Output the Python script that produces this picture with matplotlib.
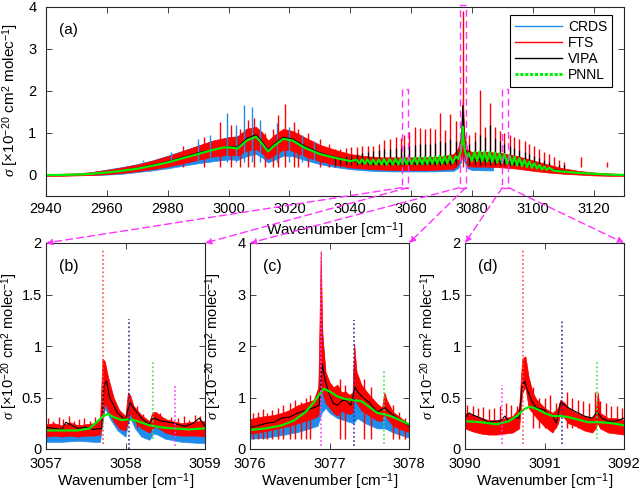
import numpy as np
import matplotlib
matplotlib.use('Agg')
import matplotlib.pyplot as plt
from matplotlib.patches import Rectangle, ConnectionPatch
from matplotlib.lines import Line2D

plt.rcParams['font.family'] = ['Liberation Sans', 'DejaVu Sans']
plt.rcParams['mathtext.fontset'] = 'custom'
plt.rcParams['mathtext.rm'] = 'Liberation Sans'
plt.rcParams['mathtext.it'] = 'Liberation Serif:italic'
plt.rcParams['font.size'] = 10.5

c_crds = '#1f8ceb'
c_fts = '#ff0000'
c_vipa = '#000000'
c_pnnl = '#00ee00'
mag = '#ff33ff'
frame = '#262626'

# ---------------- (a) full band ----------------
wn_a = [2940, 2945, 2950, 2955, 2960, 2965, 2970, 2975, 2980, 2985, 2990, 2995, 3000, 3003, 3006, 3009,
        3011, 3013, 3015, 3018, 3021, 3025, 3030, 3035, 3040, 3045, 3050, 3055, 3060, 3065, 3070, 3074,
        3075.5, 3076.5, 3077, 3077.5, 3078.5, 3080, 3085, 3090, 3095, 3100, 3105, 3110, 3115, 3120, 3125, 3130]
fts_lo = [-0.02, -0.02, -0.01, 0.0, 0.02, 0.05, 0.09, 0.14, 0.2, 0.28, 0.36, 0.44, 0.48, 0.46, 0.58, 0.62,
          0.52, 0.38, 0.48, 0.6, 0.58, 0.45, 0.33, 0.25, 0.18, 0.15, 0.13, 0.12, 0.12, 0.12, 0.13, 0.15,
          0.25, 0.4, 0.6, 0.45, 0.22, 0.2, 0.2, 0.18, 0.15, 0.1, 0.06, 0.03, 0.01, -0.01, -0.02, -0.02]
fts_hi = [0.02, 0.03, 0.04, 0.07, 0.12, 0.18, 0.25, 0.34, 0.45, 0.57, 0.7, 0.82, 0.9, 0.92, 1.1, 1.15,
          1.02, 0.82, 0.95, 1.1, 1.05, 0.9, 0.72, 0.6, 0.5, 0.45, 0.42, 0.42, 0.42, 0.42, 0.44, 0.5,
          0.65, 1.0, 1.8, 1.0, 0.6, 0.55, 0.55, 0.52, 0.45, 0.35, 0.25, 0.16, 0.1, 0.06, 0.04, 0.02]

crds_wn = [2955, 2960, 2965, 2970, 2975, 2980, 2985, 2990, 2995, 3000, 3003, 3006, 3009, 3011, 3013, 3015,
           3018, 3021, 3025, 3030, 3035, 3040, 3045, 3050, 3055, 3060, 3065, 3070, 3074, 3075.5, 3076.5,
           3077, 3077.5, 3078.5, 3080, 3084, 3087]
crds_lo = [0.0, 0.01, 0.03, 0.07, 0.11, 0.16, 0.22, 0.28, 0.33, 0.37, 0.36, 0.45, 0.5, 0.42, 0.3, 0.36,
           0.46, 0.45, 0.36, 0.26, 0.19, 0.14, 0.11, 0.09, 0.085, 0.085, 0.085, 0.09, 0.1, 0.17, 0.32,
           0.52, 0.32, 0.16, 0.12, 0.11, 0.11]
crds_hi = [0.07, 0.13, 0.19, 0.26, 0.35, 0.46, 0.58, 0.7, 0.82, 0.9, 0.92, 1.1, 1.12, 1.0, 0.8, 0.92,
           1.05, 1.0, 0.85, 0.68, 0.55, 0.45, 0.38, 0.33, 0.32, 0.32, 0.32, 0.33, 0.36, 0.5, 0.9,
           1.5, 0.8, 0.4, 0.3, 0.28, 0.25]

# sharp features on the hump
crds_spk_x = [2972, 2981, 2990, 2994, 2999.4, 3002.5, 3005.2, 3007.6, 3010.5, 3016, 3020, 3024, 3028]
crds_spk_y = [0.35, 0.55, 0.85, 0.95, 1.47, 1.2, 1.67, 1.63, 1.3, 1.25, 1.15, 0.95, 0.8]
fts_spk_x = [2985, 2992, 2997.2, 3000.8, 3003.7, 3006.3, 3008.5, 3012, 3014.5, 3016.4, 3018.5, 3021.4,
             3023, 3026, 3030, 3033, 3077, 3116, 3124.5]
fts_spk_y = [0.7, 0.9, 1.27, 1.2, 1.1, 1.3, 1.35, 1.0, 1.1, 1.43, 1.7, 1.27, 1.1, 1.0, 0.85, 0.75, 3.9,
             0.43, 0.3]

# rotational lines (P and R side of the Q branch)
comb_x = [3034.9, 3036.6, 3038.5, 3040.2, 3042.1, 3043.9, 3045.7, 3047.5, 3049.4, 3051.1, 3053.0, 3054.9,
          3056.6, 3057.8, 3059.3, 3061.2, 3062.8, 3064.5, 3066.1, 3067.8, 3069.4, 3071.0, 3072.7, 3074.7,
          3079.0, 3080.9, 3082.5, 3084.2, 3085.8, 3087.5, 3089.1, 3090.7, 3092.4, 3094.0, 3095.6, 3097.3,
          3098.9, 3100.5, 3102.2, 3103.8, 3105.4, 3107.1, 3108.7, 3110.4]
fts_comb = [0.62, 0.62, 0.64, 0.66, 0.66, 0.68, 0.68, 0.7, 0.75, 0.83, 0.85, 0.9,
            0.88, 0.95, 1.03, 1.15, 1.11, 1.09, 1.11, 1.1, 1.48, 1.07, 1.45, 1.28,
            0.95, 1.03, 2.03, 1.15, 1.72, 1.15, 1.05, 1.0, 0.95, 0.9, 0.85, 0.8,
            0.75, 0.7, 0.62, 0.55, 0.5, 0.42, 0.35, 0.3]
vipa_comb = [0.42, 0.43, 0.45, 0.47, 0.5, 0.52, 0.55, 0.57, 0.6, 0.62, 0.63, 0.65,
             0.65, 0.68, 0.7, 0.72, 0.73, 0.74, 0.75, 0.76, 0.8, 0.78, 0.85, 0.82,
             0.75, 0.8, 0.95, 0.9, 1.2, 0.88, 0.8, 0.75, 0.7, 0.65, 0.6, 0.55,
             0.5, 0.45, 0.4, 0.35, 0.3, 0.25, 0.2, 0.15]

vipa_wn = [2962, 2970, 2980, 2990, 3000, 3003, 3006, 3009, 3011, 3013, 3015, 3018, 3021, 3025, 3030, 3035,
           3040, 3050, 3060, 3070, 3074, 3075.5, 3076.5, 3077, 3077.5, 3078.5, 3080, 3090, 3100, 3110]
vipa_y = [0.07, 0.16, 0.32, 0.53, 0.68, 0.66, 0.87, 0.96, 0.8, 0.6, 0.74, 0.9, 0.86, 0.69, 0.53, 0.43,
          0.34, 0.28, 0.28, 0.29, 0.31, 0.42, 0.7, 1.65, 0.8, 0.45, 0.38, 0.32, 0.21, 0.09]

pnnl_wn = [2940, 2945, 2950, 2955, 2960, 2965, 2970, 2975, 2980, 2985, 2990, 2995, 2998, 3000, 3003, 3006,
           3009, 3011, 3013, 3015, 3018, 3021, 3025, 3030, 3035, 3040,
           3042.1, 3043.0, 3043.9, 3044.8, 3045.7, 3046.6, 3047.5, 3048.5, 3049.4, 3050.3, 3051.1, 3052.0,
           3053.0, 3054.0, 3054.9, 3055.8, 3056.6, 3057.2, 3057.8, 3058.6, 3059.3, 3060.2, 3061.2, 3062.0,
           3062.8, 3063.7, 3064.5, 3065.3, 3066.1, 3067.0, 3067.8, 3068.6, 3069.4, 3070.2, 3071.0, 3071.9,
           3072.7, 3073.7, 3074.7, 3075.5, 3076.3, 3076.8, 3077.0, 3077.3, 3077.8, 3078.4, 3079.0, 3080.0,
           3080.9, 3081.7, 3082.5, 3083.4, 3084.2, 3085.0, 3085.8, 3086.7, 3087.5, 3088.3, 3089.1, 3089.9,
           3090.7, 3091.6, 3092.4, 3093.2, 3094.0, 3094.8, 3095.6, 3096.5, 3097.3, 3098.1, 3098.9, 3099.7,
           3100.5, 3101.4, 3102.2, 3103.0, 3103.8, 3104.6, 3105.4, 3107, 3110, 3115, 3120, 3125, 3130]
pnnl_y = [0.0, 0.0, 0.01, 0.03, 0.06, 0.1, 0.15, 0.22, 0.3, 0.4, 0.5, 0.6, 0.65, 0.66, 0.63, 0.82,
          0.91, 0.75, 0.56, 0.7, 0.86, 0.82, 0.65, 0.5, 0.41, 0.33,
          0.36, 0.28, 0.37, 0.27, 0.37, 0.26, 0.37, 0.25, 0.37, 0.25, 0.38, 0.25,
          0.38, 0.25, 0.39, 0.25, 0.39, 0.26, 0.4, 0.26, 0.41, 0.26, 0.42, 0.26,
          0.42, 0.26, 0.43, 0.26, 0.43, 0.27, 0.44, 0.27, 0.45, 0.27, 0.45, 0.28,
          0.46, 0.29, 0.45, 0.38, 0.55, 0.8, 1.15, 0.8, 0.55, 0.42, 0.52, 0.33,
          0.55, 0.33, 0.56, 0.33, 0.56, 0.32, 0.55, 0.31, 0.54, 0.3, 0.52, 0.29,
          0.5, 0.27, 0.47, 0.25, 0.44, 0.23, 0.4, 0.21, 0.36, 0.19, 0.32, 0.17,
          0.28, 0.15, 0.24, 0.13, 0.2, 0.12, 0.17, 0.1, 0.08, 0.05, 0.03, 0.01, 0.0]

# zoom windows (x range, panel top)
zoom_x = [(3057, 3059), (3076, 3078), (3090, 3092)]
zoom_top = [2, 4, 2]

# ---------------- (b) 3057-3059 ----------------
b_fts_x = [3057.0, 3057.1, 3057.2, 3057.3, 3057.4, 3057.5, 3057.6, 3057.68, 3057.71, 3057.74, 3057.78,
           3057.85, 3057.92, 3058.0, 3058.03, 3058.06, 3058.1, 3058.2, 3058.3, 3058.34, 3058.38, 3058.5,
           3058.6, 3058.7, 3058.8, 3058.9, 3059.0]
b_fts_lo = [0.12, 0.13, 0.12, 0.13, 0.12, 0.13, 0.13, 0.14, 0.3, 0.45, 0.38, 0.27, 0.2, 0.18, 0.28, 0.35,
            0.28, 0.2, 0.16, 0.2, 0.22, 0.16, 0.14, 0.13, 0.13, 0.13, 0.12]
b_fts_hi = [0.24, 0.25, 0.23, 0.26, 0.23, 0.24, 0.25, 0.28, 0.88, 0.85, 0.7, 0.5, 0.38, 0.32, 0.55, 0.52,
            0.42, 0.33, 0.27, 0.36, 0.36, 0.29, 0.27, 0.25, 0.26, 0.27, 0.27]
b_spk_x = [3057.03, 3057.09, 3057.16, 3057.22, 3057.29, 3057.35, 3057.42, 3057.48, 3057.55, 3057.62,
           3058.14, 3058.22, 3058.44, 3058.5, 3058.57, 3058.66, 3058.73, 3058.8, 3058.87, 3058.94]
b_spk_y = [0.3, 0.27, 0.31, 0.29, 0.32, 0.27, 0.29, 0.3, 0.27, 0.31, 0.42, 0.34, 0.35, 0.3, 0.31, 0.3,
           0.32, 0.28, 0.33, 0.32]
b_crds_x = [3057.0, 3057.2, 3057.4, 3057.6, 3057.68, 3057.71, 3057.74, 3057.8, 3057.9, 3058.0, 3058.03,
            3058.06, 3058.12, 3058.2, 3058.3, 3058.35, 3058.4, 3058.5, 3058.7, 3058.9, 3059.0]
b_crds_lo = [0.07, 0.07, 0.08, 0.07, 0.07, 0.25, 0.4, 0.3, 0.18, 0.12, 0.25, 0.3, 0.2, 0.12, 0.09, 0.15,
             0.14, 0.1, 0.07, 0.06, 0.06]
b_crds_hi = [0.17, 0.18, 0.17, 0.17, 0.18, 0.6, 0.62, 0.5, 0.35, 0.26, 0.42, 0.44, 0.35, 0.26, 0.2, 0.3,
             0.28, 0.22, 0.18, 0.17, 0.17]
b_vipa_x = [3057.0, 3057.1, 3057.2, 3057.25, 3057.3, 3057.4, 3057.5, 3057.6, 3057.7, 3057.73, 3057.76,
            3057.8, 3057.9, 3058.0, 3058.03, 3058.06, 3058.1, 3058.2, 3058.3, 3058.33, 3058.36, 3058.45,
            3058.55, 3058.65, 3058.75, 3058.85, 3058.93, 3059.0]
b_vipa_y = [0.21, 0.2, 0.19, 0.26, 0.24, 0.2, 0.21, 0.19, 0.2, 0.62, 0.66, 0.5, 0.35, 0.28, 0.38, 0.45,
            0.4, 0.3, 0.24, 0.29, 0.3, 0.27, 0.26, 0.24, 0.22, 0.25, 0.3, 0.22]
b_pnnl_x = [3057.0, 3057.2, 3057.4, 3057.55, 3057.65, 3057.72, 3057.78, 3057.85, 3057.95, 3058.05,
            3058.15, 3058.3, 3058.45, 3058.6, 3058.8, 3059.0]
b_pnnl_y = [0.18, 0.18, 0.18, 0.2, 0.27, 0.32, 0.34, 0.31, 0.28, 0.29, 0.27, 0.23, 0.21, 0.2, 0.19, 0.2]
b_mark_x = [3057.72, 3058.04, 3058.35, 3058.62]
b_mark_lo = [0.05, 0.0, 0.1, 0.03]
b_mark_hi = [1.94, 1.26, 0.85, 0.62]
b_mark_c = ['#ff5050', '#3030a0', '#40e040', '#ff40ff']

# ---------------- (c) 3076-3078 ----------------
c_fts_x = [3076.0, 3076.1, 3076.2, 3076.3, 3076.4, 3076.5, 3076.6, 3076.7, 3076.8, 3076.86, 3076.89,
           3076.91, 3076.95, 3077.0, 3077.05, 3077.1, 3077.15, 3077.2, 3077.25, 3077.29, 3077.31, 3077.34,
           3077.4, 3077.5, 3077.6, 3077.66, 3077.69, 3077.72, 3077.8, 3077.9, 3078.0]
c_fts_lo = [0.3, 0.32, 0.35, 0.38, 0.42, 0.45, 0.5, 0.55, 0.6, 0.65, 1.2, 1.1, 0.9, 0.8, 0.7, 0.65,
            0.75, 0.7, 0.68, 0.7, 1.0, 0.9, 0.75, 0.65, 0.55, 0.55, 0.7, 0.6, 0.45, 0.38, 0.33]
c_fts_hi = [0.58, 0.62, 0.64, 0.66, 0.7, 0.76, 0.85, 0.9, 0.95, 1.2, 3.85, 2.2, 1.5, 1.3, 1.2, 1.25,
            1.1, 1.12, 1.05, 1.1, 2.05, 1.5, 1.25, 1.05, 0.88, 0.8, 1.1, 0.95, 0.72, 0.6, 0.48]
c_spk_x = [3076.04, 3076.1, 3076.16, 3076.22, 3076.28, 3076.35, 3076.42, 3076.5, 3076.57, 3076.64,
           3076.7, 3076.76, 3077.13, 3077.2, 3077.44, 3077.52, 3077.8, 3077.88, 3077.95]
c_spk_y = [0.7, 0.72, 0.78, 0.7, 0.75, 0.8, 0.85, 0.9, 0.95, 0.92, 1.0, 1.05, 1.35, 1.25, 1.35, 1.2, 0.85,
           0.72, 0.6]
c_crds_x = [3076.0, 3076.2, 3076.4, 3076.6, 3076.75, 3076.85, 3076.9, 3076.95, 3077.0, 3077.1, 3077.2,
            3077.3, 3077.35, 3077.45, 3077.6, 3077.7, 3077.8, 3078.0]
c_crds_lo = [0.2, 0.22, 0.27, 0.33, 0.4, 0.45, 0.7, 0.8, 0.7, 0.6, 0.55, 0.5, 0.6, 0.5, 0.4, 0.4, 0.32, 0.22]
c_crds_hi = [0.45, 0.5, 0.6, 0.75, 0.85, 0.95, 2.5, 1.4, 1.2, 1.05, 1.0, 0.95, 1.2, 0.95, 0.75, 0.8, 0.6,
             0.45]
c_vipa_x = [3076.0, 3076.1, 3076.2, 3076.3, 3076.4, 3076.5, 3076.6, 3076.7, 3076.8, 3076.87, 3076.91,
            3076.95, 3077.0, 3077.05, 3077.1, 3077.15, 3077.2, 3077.27, 3077.32, 3077.36, 3077.42, 3077.5,
            3077.6, 3077.7, 3077.75, 3077.85, 3077.95, 3078.0]
c_vipa_y = [0.42, 0.45, 0.5, 0.52, 0.6, 0.62, 0.7, 0.75, 0.8, 0.85, 1.65, 1.3, 1.05, 0.88, 0.85, 0.93,
            0.95, 0.85, 1.2, 1.1, 1.0, 0.9, 0.72, 0.8, 0.72, 0.6, 0.5, 0.45]
c_pnnl_x = [3076.0, 3076.2, 3076.4, 3076.55, 3076.7, 3076.8, 3076.88, 3076.93, 3077.0, 3077.1, 3077.2,
            3077.3, 3077.4, 3077.5, 3077.6, 3077.7, 3077.8, 3077.9, 3078.0]
c_pnnl_y = [0.37, 0.4, 0.46, 0.55, 0.72, 0.9, 1.08, 1.17, 1.12, 1.02, 0.97, 0.95, 0.93, 0.82, 0.7, 0.67,
            0.62, 0.55, 0.48]
c_mark_x = [3076.89, 3077.31, 3077.69]
c_mark_lo = [0.05, 0.05, 0.1]
c_mark_hi = [3.8, 2.5, 1.55]
c_mark_c = ['#ff40ff', '#3030a0', '#40e040']

# ---------------- (d) 3090-3092 ----------------
d_fts_x = [3090.0, 3090.1, 3090.2, 3090.3, 3090.4, 3090.5, 3090.6, 3090.68, 3090.72, 3090.76, 3090.8,
           3090.85, 3090.9, 3091.0, 3091.1, 3091.17, 3091.2, 3091.25, 3091.3, 3091.4, 3091.5, 3091.6,
           3091.64, 3091.67, 3091.7, 3091.8, 3091.9, 3092.0]
d_fts_lo = [0.2, 0.17, 0.15, 0.14, 0.14, 0.15, 0.16, 0.2, 0.55, 0.6, 0.4, 0.35, 0.3, 0.22, 0.16, 0.25,
            0.35, 0.3, 0.25, 0.22, 0.18, 0.16, 0.2, 0.25, 0.2, 0.16, 0.15, 0.14]
d_fts_hi = [0.35, 0.33, 0.3, 0.28, 0.28, 0.3, 0.32, 0.4, 0.88, 0.9, 0.7, 0.55, 0.48, 0.4, 0.35, 0.4,
            0.48, 0.45, 0.4, 0.35, 0.32, 0.3, 0.35, 0.55, 0.35, 0.3, 0.3, 0.28]
d_spk_x = [3090.03, 3090.1, 3090.16, 3090.23, 3090.3, 3090.37, 3090.44, 3090.51, 3090.58, 3090.65,
           3090.86, 3090.93, 3091.0, 3091.07, 3091.14, 3091.28, 3091.35, 3091.42, 3091.49, 3091.56,
           3091.63, 3091.7, 3091.77, 3091.84, 3091.91, 3091.98]
d_spk_y = [0.43, 0.42, 0.4, 0.41, 0.39, 0.4, 0.42, 0.45, 0.43, 0.42, 0.6, 0.5, 0.5, 0.52, 0.45, 0.55,
           0.5, 0.48, 0.47, 0.45, 0.55, 0.47, 0.45, 0.42, 0.42, 0.4]
d_vipa_x = [3090.0, 3090.05, 3090.1, 3090.2, 3090.3, 3090.38, 3090.45, 3090.5, 3090.55, 3090.6, 3090.68,
            3090.72, 3090.75, 3090.78, 3090.85, 3090.9, 3091.0, 3091.05, 3091.1, 3091.15, 3091.2, 3091.25,
            3091.3, 3091.4, 3091.5, 3091.6, 3091.66, 3091.72, 3091.8, 3091.9, 3092.0]
d_vipa_y = [0.3, 0.35, 0.33, 0.3, 0.26, 0.27, 0.27, 0.32, 0.27, 0.3, 0.3, 0.62, 0.66, 0.58, 0.45, 0.4,
            0.38, 0.33, 0.32, 0.25, 0.45, 0.43, 0.4, 0.36, 0.32, 0.3, 0.36, 0.3, 0.27, 0.27, 0.3]
d_pnnl_x = [3090.0, 3090.2, 3090.4, 3090.55, 3090.65, 3090.75, 3090.82, 3090.9, 3091.0, 3091.1, 3091.2,
            3091.3, 3091.45, 3091.55, 3091.7, 3091.85, 3092.0]
d_pnnl_y = [0.27, 0.26, 0.24, 0.27, 0.32, 0.39, 0.41, 0.39, 0.35, 0.32, 0.32, 0.31, 0.28, 0.26, 0.26, 0.25,
            0.23]
d_mark_x = [3090.46, 3090.73, 3091.22, 3091.66]
d_mark_lo = [0.05, 0.05, 0.05, 0.1]
d_mark_hi = [0.62, 1.94, 1.26, 0.85]
d_mark_c = ['#ff40ff', '#ff5050', '#3030a0', '#40e040']

ylab = r'$\sigma$ [×10$^{-20}$ cm$^{2}$ molec$^{-1}$]'
xlab = r'Wavenumber [cm$^{-1}$]'


def style(ax, lsize):
    ax.tick_params(direction='in', top=True, right=True, length=4, width=0.6, colors=frame,
                   labelcolor='black', labelsize=lsize)
    ax.tick_params(axis='x', pad=6)
    ax.tick_params(axis='y', pad=4)
    for s in ax.spines.values():
        s.set_color(frame)
        s.set_linewidth(0.8)
    ax.yaxis.set_major_formatter(plt.FuncFormatter(lambda v, p: '%g' % v))
    ax.xaxis.set_major_formatter(plt.FuncFormatter(lambda v, p: '%g' % v))


fig = plt.figure(figsize=(6.4, 4.95), dpi=100)
W, H = 640.0, 495.0

# ---- panel (a)
ax = fig.add_axes([46 / W, 1 - 196 / H, 578 / W, 189 / H])
ax.fill_between(crds_wn, crds_lo, crds_hi, color=c_crds, lw=0.5)
ax.vlines(crds_spk_x, 0.3, crds_spk_y, color=c_crds, lw=1)
ax.fill_between(wn_a, fts_lo, fts_hi, color=c_fts, lw=0.5)
ax.vlines(fts_spk_x, 0.2, fts_spk_y, color=c_fts, lw=1)
ax.vlines(comb_x, 0.2, fts_comb, color=c_fts, lw=1)
ax.plot(vipa_wn, vipa_y, color=c_vipa, lw=0.8)
ax.vlines(comb_x, 0.25, vipa_comb, color=c_vipa, lw=0.9)
ax.plot(pnnl_wn, pnnl_y, color=c_pnnl, lw=1.6)
ax.set_xlim(2940, 3130)
ax.set_ylim(-0.5, 4)
ax.set_xticks(np.arange(2940, 3121, 20))
ax.set_yticks([0, 1, 2, 3, 4])
style(ax, 10.5)
ax.tick_params(axis='x', pad=4)
ax.tick_params(axis='y', pad=7)
ax.text(0.022, 0.88, '(a)', transform=ax.transAxes, fontsize=11, va='center')

for (x0, x1), top in zip(zoom_x, zoom_top):
    ax.add_patch(Rectangle((x0, -0.3), x1 - x0, top + 0.05 - (-0.3), fill=False, ec=mag, lw=1,
                           ls=(0, (5, 3)), clip_on=False, zorder=5))

handles = [Line2D([], [], color=c_crds, lw=1), Line2D([], [], color=c_fts, lw=1),
           Line2D([], [], color=c_vipa, lw=1), Line2D([], [], color=c_pnnl, lw=2.2, ls=(0, (1, 0.6)))]
leg = ax.legend(handles, ['CRDS', 'FTS', 'VIPA', 'PNNL'], loc='upper right', bbox_to_anchor=(0.979, 0.958),
                borderaxespad=0, fancybox=False, edgecolor='black', framealpha=1, fontsize=10,
                handlelength=3.4, labelspacing=0.15, handletextpad=0.4, borderpad=0.35)
leg.get_frame().set_linewidth(0.8)

fig.text(335 / W, 1 - 231 / H, xlab, ha='center', va='center', fontsize=11)
fig.text(11 / W, 1 - 100 / H, ylab, ha='center', va='center', rotation=90, fontsize=11)

# ---- lower panels
lefts = [46, 250, 465]
ylab_x = [10, 214, 429]
panels = [
    ('(b)', (3057, 3059), 2, [0, 0.5, 1, 1.5, 2], b_crds_x, b_crds_lo, b_crds_hi, b_fts_x, b_fts_lo, b_fts_hi,
     b_spk_x, b_spk_y, b_vipa_x, b_vipa_y, b_pnnl_x, b_pnnl_y, b_mark_x, b_mark_lo, b_mark_hi, b_mark_c),
    ('(c)', (3076, 3078), 4, [0, 1, 2, 3, 4], c_crds_x, c_crds_lo, c_crds_hi, c_fts_x, c_fts_lo, c_fts_hi,
     c_spk_x, c_spk_y, c_vipa_x, c_vipa_y, c_pnnl_x, c_pnnl_y, c_mark_x, c_mark_lo, c_mark_hi, c_mark_c),
    ('(d)', (3090, 3092), 2, [0, 0.5, 1, 1.5, 2], None, None, None, d_fts_x, d_fts_lo, d_fts_hi,
     d_spk_x, d_spk_y, d_vipa_x, d_vipa_y, d_pnnl_x, d_pnnl_y, d_mark_x, d_mark_lo, d_mark_hi, d_mark_c),
]

for i, p in enumerate(panels):
    (lab, xr, top, yt, cx, clo, chi, fx, flo, fhi, sx, sy, vx, vy, px, py, mx, mlo, mhi, mc) = p
    axp = fig.add_axes([lefts[i] / W, 1 - 449 / H, 159 / W, 206 / H])
    if cx is not None:
        axp.fill_between(cx, clo, chi, color=c_crds, lw=0.5)
    axp.fill_between(fx, flo, fhi, color=c_fts, lw=0.5)
    axp.vlines(sx, 0.2, sy, color=c_fts, lw=1)
    axp.plot(vx, vy, color=c_vipa, lw=0.8)
    axp.plot(px, py, color=c_pnnl, lw=1.6)
    axp.vlines(mx, mlo, mhi, colors=mc, lw=1.2, linestyles=(0, (1, 1.5)))
    axp.set_xlim(*xr)
    axp.set_ylim(0, top)
    axp.set_xticks([xr[0], xr[0] + 1, xr[1]])
    axp.set_yticks(yt)
    style(axp, 10.5)
    axp.tick_params(axis='y', pad=3)
    axp.text(0.08, 0.885, lab, transform=axp.transAxes, fontsize=11.5, va='center')
    fig.text((lefts[i] + 79.5) / W, 1 - 482 / H, xlab, ha='center', va='center', fontsize=11)
    fig.text(ylab_x[i] / W, 1 - 346 / H, ylab, ha='center', va='center', rotation=90, fontsize=10.5)

    # dashed connectors from the zoom box in (a) to the panel corners
    for k in range(2):
        con = ConnectionPatch(xyA=(zoom_x[i][k], -0.3), coordsA=ax.transData,
                              xyB=(xr[k], top), coordsB=axp.transData,
                              arrowstyle='-|>', mutation_scale=9, color=mag, lw=1,
                              ls=(0, (5, 3)), shrinkA=0, shrinkB=0, zorder=6)
        fig.add_artist(con)

fig.savefig('out.png', dpi=100)
